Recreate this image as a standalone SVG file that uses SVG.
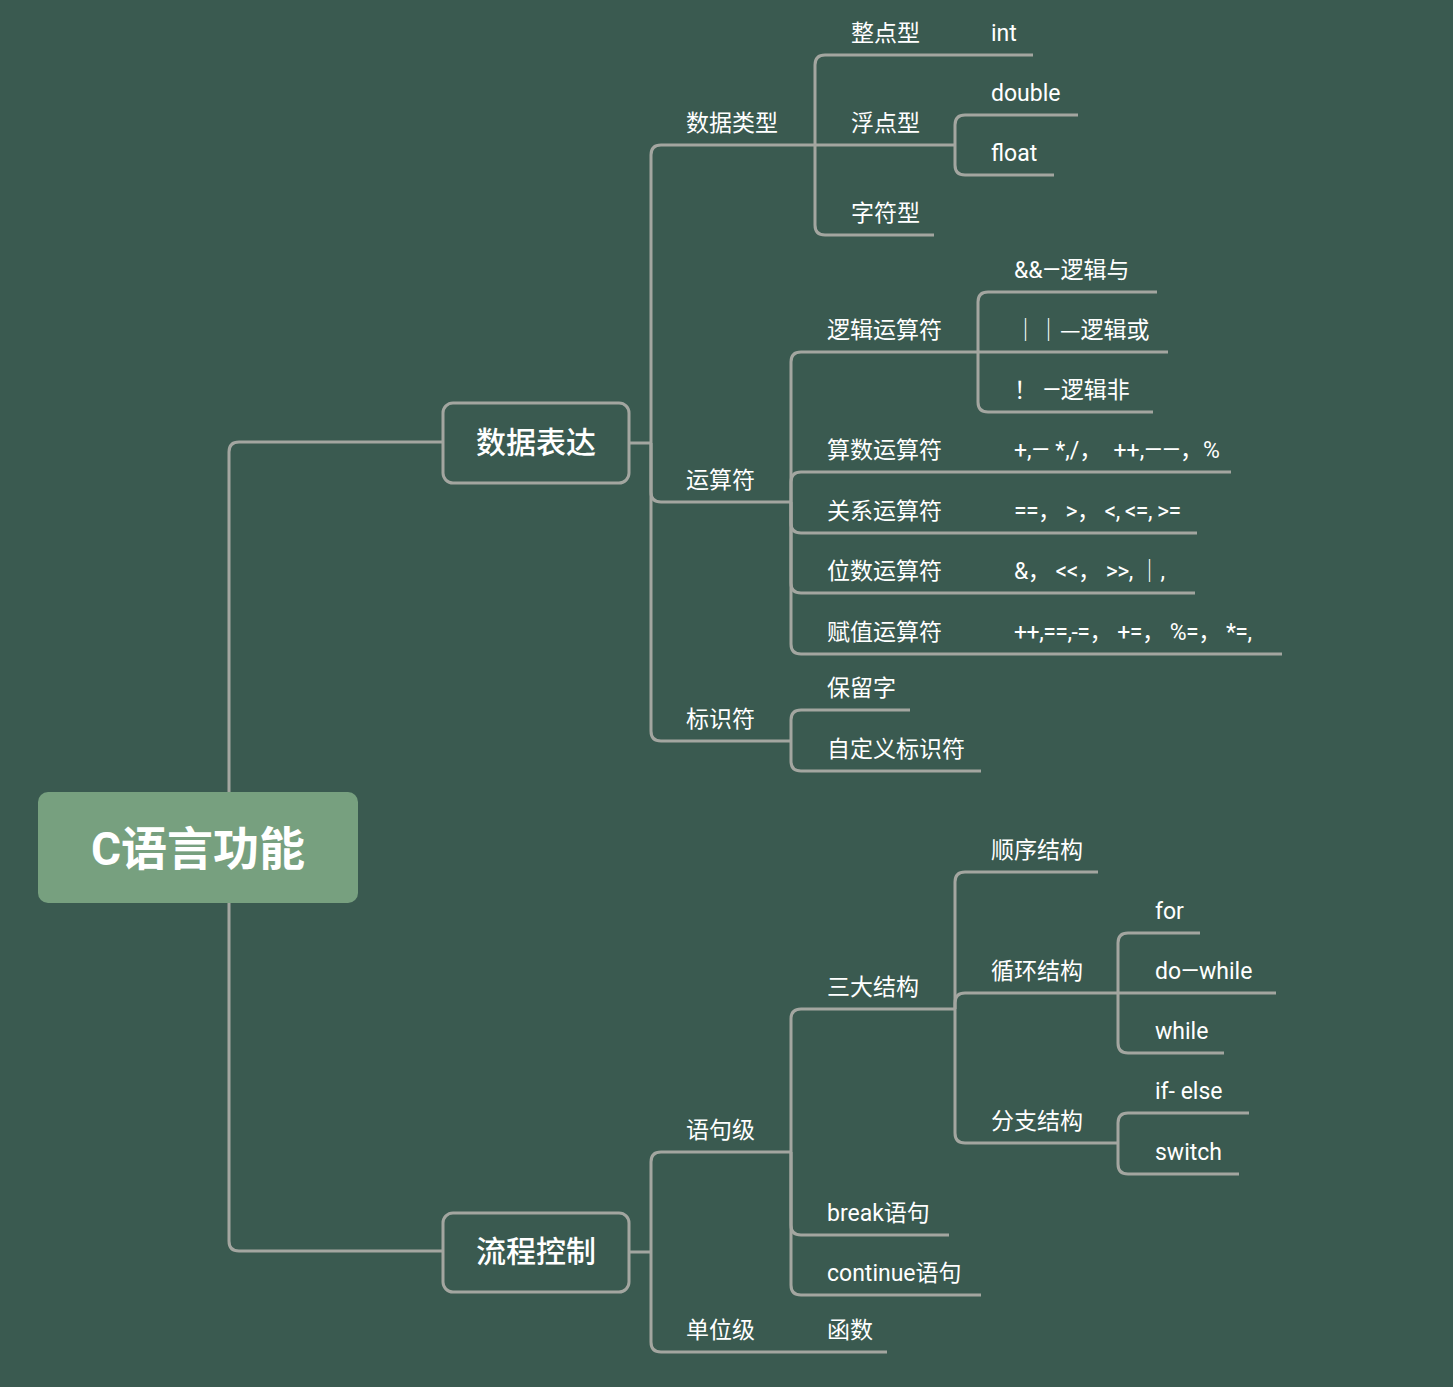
<svg xmlns="http://www.w3.org/2000/svg" width="1453" height="1387" viewBox="0 0 1453 1387">
<style>
.bg{fill:#3a5a50}
.ln{fill:none;stroke:#a3a6a0;stroke-width:3;stroke-linecap:butt;stroke-linejoin:round}
.t{fill:#ffffff;font-family:Roboto,"Noto Sans CJK SC",sans-serif;font-size:23px;white-space:pre}
.cj{font-family:"Noto Sans CJK SC",sans-serif}
.main{fill:none;stroke:#a3a6a0;stroke-width:3}
.mt{fill:#ffffff;font-family:Roboto,"Noto Sans CJK SC",sans-serif;font-size:30px;font-weight:500;text-anchor:middle}
.root{fill:#77a07f}
.rt{fill:#ffffff;font-family:Roboto,"Noto Sans CJK SC",sans-serif;font-size:46px;font-weight:700;text-anchor:middle}
</style>
<rect class="bg" x="0" y="0" width="1453" height="1387"/>
<g id="connectors">
<path class="ln" d="M229 792 V452 Q229 442 239 442 H443"/>
<path class="ln" d="M229 903 V1241 Q229 1251 239 1251 H443"/>
<path class="ln" d="M629 443 H651"/>
<path class="ln" d="M651 443 V155 Q651 145 661 145 H815"/>
<path class="ln" d="M651 443 V492 Q651 502 661 502 H791"/>
<path class="ln" d="M651 443 V731 Q651 741 661 741 H791"/>
<path class="ln" d="M815 145 V65 Q815 55 825 55 H1033"/>
<path class="ln" d="M815 145 H955"/>
<path class="ln" d="M815 145 V225 Q815 235 825 235 H934"/>
<path class="ln" d="M955 145 V125 Q955 115 965 115 H1078"/>
<path class="ln" d="M955 145 V165 Q955 175 965 175 H1054"/>
<path class="ln" d="M791 502 V362 Q791 352 801 352 H978"/>
<path class="ln" d="M791 502 V482 Q791 472 801 472 H1231"/>
<path class="ln" d="M791 502 V523 Q791 533 801 533 H1197"/>
<path class="ln" d="M791 502 V583 Q791 593 801 593 H1195"/>
<path class="ln" d="M791 502 V644 Q791 654 801 654 H1282"/>
<path class="ln" d="M978 352 V302 Q978 292 988 292 H1157"/>
<path class="ln" d="M978 352 H1168"/>
<path class="ln" d="M978 352 V402 Q978 412 988 412 H1153"/>
<path class="ln" d="M791 741 V720 Q791 710 801 710 H910"/>
<path class="ln" d="M791 741 V761 Q791 771 801 771 H981"/>
<path class="ln" d="M629 1252 H651"/>
<path class="ln" d="M651 1252 V1162 Q651 1152 661 1152 H791"/>
<path class="ln" d="M651 1252 V1342 Q651 1352 661 1352 H887"/>
<path class="ln" d="M791 1152 V1019 Q791 1009 801 1009 H955"/>
<path class="ln" d="M791 1152 V1225 Q791 1235 801 1235 H949"/>
<path class="ln" d="M791 1152 V1285 Q791 1295 801 1295 H981"/>
<path class="ln" d="M955 1009 V882 Q955 872 965 872 H1098"/>
<path class="ln" d="M955 1009 V1003 Q955 993 965 993 H1118"/>
<path class="ln" d="M955 1009 V1133 Q955 1143 965 1143 H1118"/>
<path class="ln" d="M1118 993 V943 Q1118 933 1128 933 H1200"/>
<path class="ln" d="M1118 993 H1276"/>
<path class="ln" d="M1118 993 V1043 Q1118 1053 1128 1053 H1224"/>
<path class="ln" d="M1118 1143 V1123 Q1118 1113 1128 1113 H1249"/>
<path class="ln" d="M1118 1143 V1164 Q1118 1174 1128 1174 H1239"/>
</g>
<g id="root"><rect class="root" x="38" y="792" width="320" height="111" rx="10"/><text class="rt" x="198" y="865">C语言功能</text></g>
<g id="n-data"><rect class="main" x="443" y="403" width="186" height="80" rx="10"/><text class="mt" x="536" y="453">数据表达</text></g>
<g id="n-flow"><rect class="main" x="443" y="1213" width="186" height="79" rx="10"/><text class="mt" x="536" y="1262">流程控制</text></g>
<g id="n-datatype"><text class="t" x="686" y="131">数据类型</text></g>
<g id="n-int-type"><text class="t" x="851" y="41">整点型</text></g>
<g id="n-int"><text class="t" x="991" y="41">int</text></g>
<g id="n-float-type"><text class="t" x="851" y="131">浮点型</text></g>
<g id="n-double"><text class="t" x="991" y="101">double</text></g>
<g id="n-float"><text class="t" x="991" y="161">float</text></g>
<g id="n-char"><text class="t" x="851" y="221">字符型</text></g>
<g id="n-op"><text class="t" x="686" y="488">运算符</text></g>
<g id="n-logic"><text class="t" x="827" y="338">逻辑运算符</text></g>
<g id="n-and"><text class="t" x="1014" y="278">&amp;&amp;—逻辑与</text></g>
<g id="n-or"><text class="t cj" x="1014" y="338">｜｜—逻辑或</text></g>
<g id="n-not"><text class="t" x="1014" y="398">！ —逻辑非</text></g>
<g id="n-arith"><text class="t" x="827" y="458">算数运算符</text><text class="t" x="1014" y="458">+,— *,/，  ++,——，%</text></g>
<g id="n-rel"><text class="t" x="827" y="519">关系运算符</text><text class="t" x="1014" y="519" textLength="167" lengthAdjust="spacing">==， &gt;， &lt;, &lt;=, &gt;=</text></g>
<g id="n-bit"><text class="t" x="827" y="579">位数运算符</text><text class="t" x="1014" y="579" textLength="151" lengthAdjust="spacing">&amp;， &lt;&lt;， &gt;&gt;, <tspan class="cj">｜</tspan>,</text></g>
<g id="n-assign"><text class="t" x="827" y="640">赋值运算符</text><text class="t" x="1014" y="640" textLength="238" lengthAdjust="spacing">++,==,-=， +=， %=， *=,</text></g>
<g id="n-ident"><text class="t" x="686" y="727">标识符</text></g>
<g id="n-reserved"><text class="t" x="827" y="696">保留字</text></g>
<g id="n-custom"><text class="t" x="827" y="757">自定义标识符</text></g>
<g id="n-stmt"><text class="t" x="686" y="1138">语句级</text></g>
<g id="n-three"><text class="t" x="827" y="995">三大结构</text></g>
<g id="n-seq"><text class="t" x="991" y="858">顺序结构</text></g>
<g id="n-loop"><text class="t" x="991" y="979">循环结构</text></g>
<g id="n-for"><text class="t" x="1155" y="919">for</text></g>
<g id="n-dowhile"><text class="t" x="1155" y="979">do—while</text></g>
<g id="n-while"><text class="t" x="1155" y="1039">while</text></g>
<g id="n-branch"><text class="t" x="991" y="1129">分支结构</text></g>
<g id="n-ifelse"><text class="t" x="1155" y="1099">if- else</text></g>
<g id="n-switch"><text class="t" x="1155" y="1160">switch</text></g>
<g id="n-break"><text class="t" x="827" y="1221">break语句</text></g>
<g id="n-continue"><text class="t" x="827" y="1281">continue语句</text></g>
<g id="n-unit"><text class="t" x="686" y="1338">单位级</text></g>
<g id="n-func"><text class="t" x="827" y="1338">函数</text></g>
</svg>
